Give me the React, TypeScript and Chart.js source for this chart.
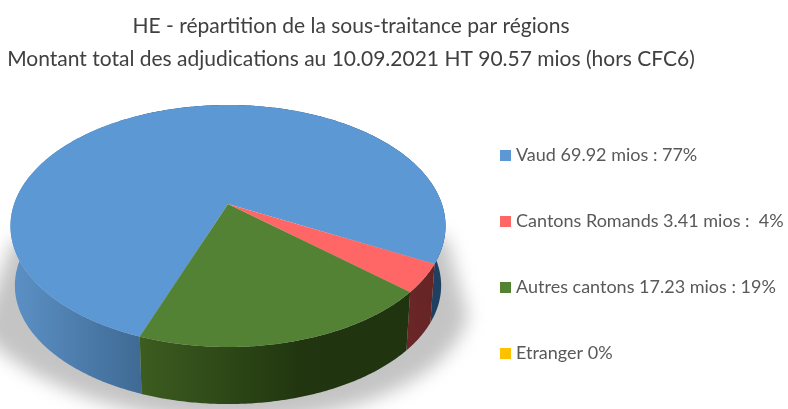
import React, { useEffect, useRef } from "react";
import { Chart, registerables } from "chart.js";

Chart.register(...registerables);

const regions = [
  "Vaud 69.92 mios : 77%",
  "Cantons Romands 3.41 mios :  4%",
  "Autres cantons 17.23 mios : 19%",
  "Etranger 0%",
];
const amounts = [69.92, 3.41, 17.23, 0];
const faceColors = ["#5b98d4", "#ff6666", "#548235", "#ffc000"];
const titleLines = [
  "HE - répartition de la sous-traitance par régions",
  "Montant total des adjudications au 10.09.2021 HT 90.57 mios (hors CFC6)",
];
const wallStops: [number, string][][] = [
  [[11, "#5c91c6"], [141, "#3f6a94"], [142, "#1f4060"], [446, "#1f4060"]],
  [[405, "#6b2727"], [434, "#662424"]],
  [[141, "#3c5c20"], [300, "#21360f"], [409, "#1f340f"]],
  [[0, "#7f6000"], [1, "#7f6000"]],
];

// Perspective view of the unit disc, fitted to the reference.
const CX = 228;
const CY = 204;
const PERSP = 0.1818;
const TOP = { a: 213.9, b: 117, dy: 0 };
const BASE = { a: 209.6, b: 114.6, dy: 60 };

function project(angle: number, p: { a: number; b: number; dy: number }) {
  const u = Math.cos(angle);
  const v = Math.sin(angle);
  const w = 1 - PERSP * v;
  return [CX + (p.a * u) / w, CY + p.dy + (p.b * v) / w];
}

function tracePoints(
  ctx: CanvasRenderingContext2D,
  from: number,
  to: number,
  p: { a: number; b: number; dy: number },
  first: boolean
) {
  const steps = Math.max(2, Math.ceil(Math.abs(to - from) / 0.01));
  for (let i = 0; i <= steps; i++) {
    const [x, y] = project(from + ((to - from) * i) / steps, p);
    if (i === 0 && first) ctx.moveTo(x, y);
    else ctx.lineTo(x, y);
  }
}

const pie3d = {
  id: "pie3d",
  afterLayout(chart: any) {
    chart.titleBlock.left = 0;
    chart.titleBlock.right = 702;
    const pad = chart.legend.options.labels.padding;
    chart.legend.left = 503 - pad;
    chart.legend.right = 788;
    chart.legend.top = 146 - pad;
    chart.legend.bottom = 900;
  },
  beforeDatasetsDraw(chart: any) {
    const ctx: CanvasRenderingContext2D = chart.ctx;
    const arcs = chart.getDatasetMeta(0).data;

    // soft drop shadow
    ctx.save();
    ctx.filter = "blur(9px)";
    ctx.fillStyle = "#c4c4c4";
    ctx.beginPath();
    ctx.moveTo(446, 236);
    ctx.lineTo(468, 316);
    ctx.bezierCurveTo(450, 390, 320, 425, 228, 422);
    ctx.bezierCurveTo(120, 420, 20, 380, -20, 330);
    ctx.lineTo(13, 240);
    ctx.closePath();
    ctx.fill();
    ctx.restore();

    // outer walls
    arcs.forEach((arc: any, i: number) => {
      if (arc.endAngle - arc.startAngle <= 0) return;
      const grad = ctx.createLinearGradient(0, 0, 788, 0);
      wallStops[i].forEach(([x, c]) => grad.addColorStop(Math.min(1, x / 788), c));
      ctx.fillStyle = grad;
      ctx.beginPath();
      tracePoints(ctx, arc.startAngle, arc.endAngle, TOP, true);
      tracePoints(ctx, arc.endAngle, arc.startAngle, BASE, false);
      ctx.closePath();
      ctx.fill();
    });

    // top face
    arcs.forEach((arc: any, i: number) => {
      if (arc.endAngle - arc.startAngle <= 0) return;
      ctx.fillStyle = faceColors[i];
      ctx.beginPath();
      ctx.moveTo(CX, CY);
      tracePoints(ctx, arc.startAngle, arc.endAngle, TOP, false);
      ctx.closePath();
      ctx.fill();
    });
    return false;
  },
};

function swatch(color: string) {
  const c = document.createElement("canvas");
  c.width = 11;
  c.height = 11;
  const g = c.getContext("2d")!;
  g.fillStyle = color;
  g.fillRect(0, 0, 11, 11);
  return c;
}

export default function App() {
  const ref = useRef<HTMLCanvasElement>(null);
  useEffect(() => {
    const chart = new Chart(ref.current!, {
      type: "pie",
      data: {
        labels: regions,
        datasets: [{ data: amounts, backgroundColor: faceColors, borderWidth: 0 }],
      },
      options: {
        animation: false,
        responsive: false,
        rotation: 200,
        plugins: {
          tooltip: { enabled: false },
          title: {
            display: true,
            text: titleLines,
            color: "#404040",
            font: { family: "Lato", size: 21, weight: "normal", lineHeight: 1.57 },
            padding: { top: 10, bottom: 10 },
          },
          legend: {
            position: "right",
            align: "start",
            labels: {
              color: "#595959",
              font: { family: "Lato", size: 18 },
              padding: 48,
              usePointStyle: true,
              pointStyleWidth: 4,
              boxHeight: 11,
              generateLabels: () =>
                regions.map((text, i) => ({
                  text,
                  fontColor: "#595959",
                  pointStyle: swatch(faceColors[i]),
                  fillStyle: faceColors[i],
                  strokeStyle: faceColors[i],
                  lineWidth: 0,
                  index: i,
                  hidden: false,
                })),
            },
          },
        },
      } as any,
      plugins: [pie3d],
    });
    return () => chart.destroy();
  }, []);
  return (
    <div style={{ position: "absolute", left: 0, top: 0, width: 788, height: 409, overflow: "hidden", background: "#fff" }}>
      <canvas ref={ref} width={788} height={409} style={{ display: "block", filter: "blur(0.5px)" }} />
    </div>
  );
}
